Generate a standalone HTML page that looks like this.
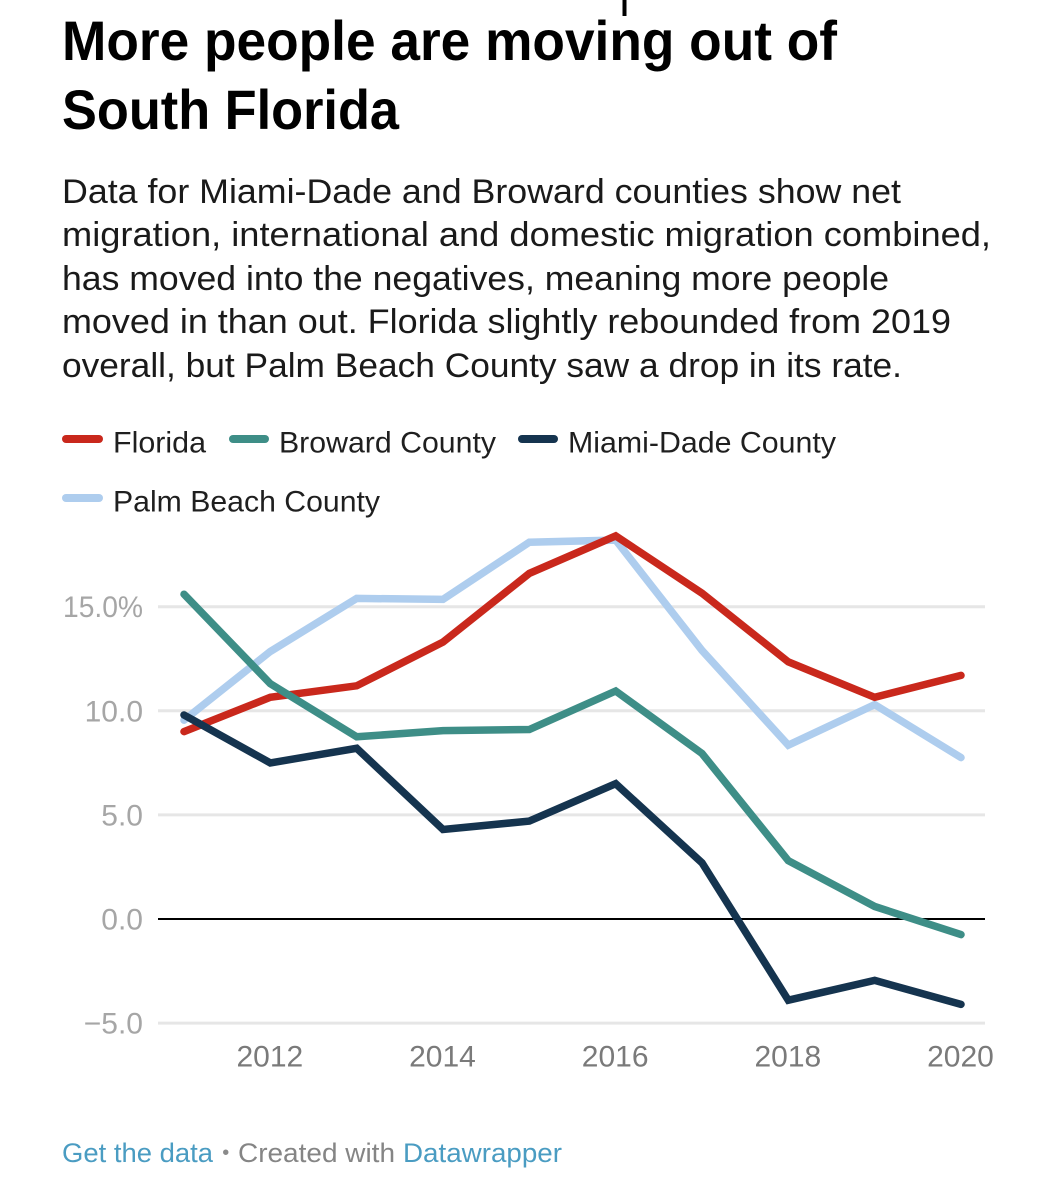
<!DOCTYPE html>
<html>
<head>
<meta charset="utf-8">
<title>More people are moving out of South Florida</title>
<style>
html,body{margin:0;padding:0;background:#fff;}
svg{display:block;font-family:"Liberation Sans",sans-serif;}
</style>
</head>
<body>
<svg id="chart" xmlns="http://www.w3.org/2000/svg" width="1062" height="1200" viewBox="0 0 1062 1200">
  <rect width="1062" height="1200" fill="#fff"/>
  <rect x="622.500" y="0" width="4" height="16" fill="#000"/>
  <g font-weight="700" font-size="56" fill="#000">
    <text x="62" y="60" textLength="775" lengthAdjust="spacingAndGlyphs">More people are moving out of</text>
    <text x="62" y="129" textLength="337" lengthAdjust="spacingAndGlyphs">South Florida</text>
  </g>
  <g font-size="34" fill="#1a1a1a">
    <text x="62" y="203" textLength="839" lengthAdjust="spacingAndGlyphs">Data for Miami-Dade and Broward counties show net</text>
    <text x="62" y="246" textLength="929" lengthAdjust="spacingAndGlyphs">migration, international and domestic migration combined,</text>
    <text x="62" y="290" textLength="827" lengthAdjust="spacingAndGlyphs">has moved into the negatives, meaning more people</text>
    <text x="62" y="333" textLength="889" lengthAdjust="spacingAndGlyphs">moved in than out. Florida slightly rebounded from 2019</text>
    <text x="62" y="377" textLength="840" lengthAdjust="spacingAndGlyphs">overall, but Palm Beach County saw a drop in its rate.</text>
  </g>
  <g font-size="30" fill="#1f1f1f">
    <g>
      <line x1="66" y1="439" x2="99" y2="439" stroke="#c9281c" stroke-width="8" stroke-linecap="round"/>
      <text x="113" y="452.500" textLength="93" lengthAdjust="spacingAndGlyphs">Florida</text>
    </g>
    <g>
      <line x1="233" y1="439" x2="265" y2="439" stroke="#3e8e87" stroke-width="8" stroke-linecap="round"/>
      <text x="279" y="452.500" textLength="217" lengthAdjust="spacingAndGlyphs">Broward County</text>
    </g>
    <g>
      <line x1="522" y1="439" x2="554" y2="439" stroke="#15344f" stroke-width="8" stroke-linecap="round"/>
      <text x="568" y="452.500" textLength="268" lengthAdjust="spacingAndGlyphs">Miami-Dade County</text>
    </g>
    <g>
      <line x1="66" y1="498" x2="99" y2="498" stroke="#aecdee" stroke-width="8" stroke-linecap="round"/>
      <text x="113" y="511.500" textLength="267" lengthAdjust="spacingAndGlyphs">Palm Beach County</text>
    </g>
  </g>
  <g id="grid"></g>
  <g id="ylabels" font-size="30" fill="#a6a6a6" text-anchor="end"></g>
  <g id="xlabels" font-size="30" fill="#7a7a7a" text-anchor="middle"></g>
  <g id="series"></g>
  <g font-size="27">
    <text x="62" y="1162" fill="#4a9cc2" textLength="151" lengthAdjust="spacingAndGlyphs">Get the data</text>
    <text x="225.700" y="1159" font-size="20" text-anchor="middle" fill="#8a8a8a">•</text>
    <text x="238" y="1162" fill="#858585" textLength="157" lengthAdjust="spacingAndGlyphs">Created with</text>
    <text x="403" y="1162" fill="#4a9cc2" textLength="159" lengthAdjust="spacingAndGlyphs">Datawrapper</text>
  </g>
</svg>
<script>
var years = [2011, 2012, 2013, 2014, 2015, 2016, 2017, 2018, 2019, 2020];
var florida = [9.0, 10.65, 11.2, 13.3, 16.6, 18.4, 15.65, 12.35, 10.65, 11.7];
var broward = [15.6, 11.3, 8.75, 9.05, 9.1, 10.95, 7.95, 2.8, 0.6, -0.75];
var miamiDade = [9.8, 7.5, 8.2, 4.3, 4.7, 6.5, 2.7, -3.9, -2.95, -4.1];
var palmBeach = [9.55, 12.85, 15.4, 15.35, 18.1, 18.2, 12.9, 8.35, 10.3, 7.75];
var yTicks = [15, 10, 5, 0, -5];
var yTickLabels = ["15.0%", "10.0", "5.0", "0.0", "\u22125.0"];
var xTicks = [2012, 2014, 2016, 2018, 2020];

var NS = "http://www.w3.org/2000/svg";
function xScale(year) { return 184 + (year - 2011) * (961 - 184) / 9; }
function yScale(value) { return 919 - value * 20.82; }

var grid = document.getElementById("grid");
var ylabels = document.getElementById("ylabels");
var xlabels = document.getElementById("xlabels");
var seriesGroup = document.getElementById("series");

yTicks.forEach(function (tick, i) {
  var line = document.createElementNS(NS, "line");
  
  
  line.setAttribute("x1", 158);
  line.setAttribute("x2", 985);
  line.setAttribute("y1", yScale(tick));
  line.setAttribute("y2", yScale(tick));
  line.setAttribute("stroke", tick === 0 ? "#000" : "#e6e6e6");
  line.setAttribute("stroke-width", tick === 0 ? 2 : 3);
  grid.appendChild(line);

  var label = document.createElementNS(NS, "text");
  
  
  label.setAttribute("x", 143);
  label.setAttribute("y", yScale(tick) + 10.5);
  if (yTickLabels[i].indexOf("%") !== -1) {
    label.setAttribute("textLength", 80);
    label.setAttribute("lengthAdjust", "spacingAndGlyphs");
  }
  label.textContent = yTickLabels[i];
  ylabels.appendChild(label);
});

xTicks.forEach(function (tick) {
  var label = document.createElementNS(NS, "text");
  
  
  label.setAttribute("x", xScale(tick) - 0.5);
  label.setAttribute("y", 1066.5);
  label.textContent = String(tick);
  xlabels.appendChild(label);
});

function drawSeries(values, color, name) {
  var path = document.createElementNS(NS, "polyline");
  
  
  var pts = values.map(function (v, i) {
    return xScale(years[i]).toFixed(1) + "," + yScale(v).toFixed(1);
  }).join(" ");
  path.setAttribute("points", pts);
  path.setAttribute("fill", "none");
  path.setAttribute("stroke", color);
  path.setAttribute("stroke-width", 7.5);
  path.setAttribute("stroke-linecap", "round");
  path.setAttribute("stroke-linejoin", "miter");
  seriesGroup.appendChild(path);
}

drawSeries(palmBeach, "#aecdee", "line-palm-beach");
drawSeries(florida, "#c9281c", "line-florida");
drawSeries(broward, "#3e8e87", "line-broward");
drawSeries(miamiDade, "#15344f", "line-miami-dade");
</script>
</body>
</html>
